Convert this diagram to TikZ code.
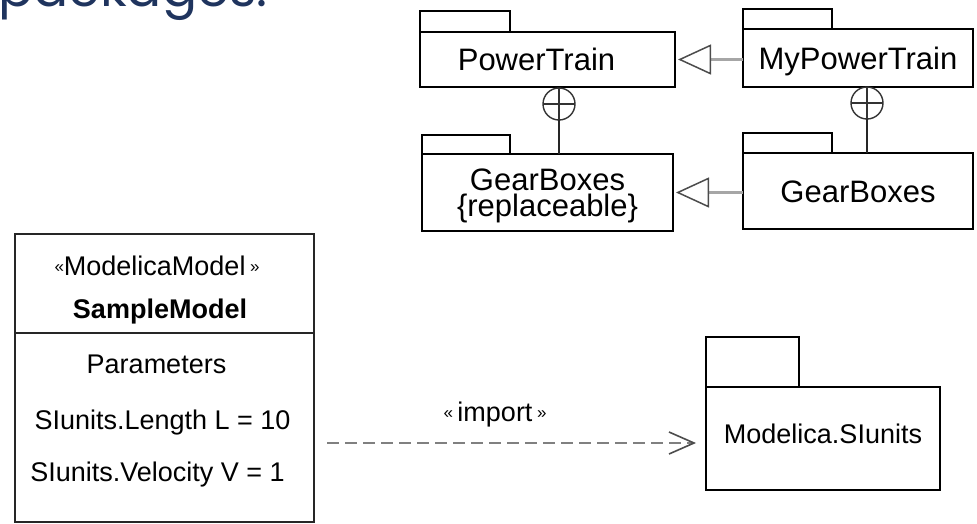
\documentclass[tikz,border=0pt]{standalone}
\usepackage{fontspec}
\setmainfont{Liberation Sans}
\newfontfamily\headfont{Poppins}
\usepackage{tikz}
\usetikzlibrary{positioning,arrows.meta}
\definecolor{headblue}{RGB}{31,52,94}
\newcommand{\gml}{\raisebox{3pt}{\fontsize{17}{17}\selectfont«}}
\newcommand{\gmr}{\raisebox{3pt}{\fontsize{17}{17}\selectfont»}}
\tikzset{
  % --- packages and classes --------------------------------------------------
  pkg/.style={rectangle,draw=black,line width=1.8pt,inner sep=0pt,outer sep=0pt,
              font=\fontsize{31}{26}\selectfont,align=center,
              text height=22pt,text depth=0pt},
  pkgtab/.style={rectangle,draw=black,line width=1.8pt,inner sep=0pt,outer sep=0pt,
                 anchor=south west},
  cls/.style={rectangle,draw=black!85,line width=1.8pt,inner sep=0pt,outer sep=0pt},
  clstext/.style={anchor=base,inner sep=0pt,font=\fontsize{27}{27}\selectfont},
  % --- relations -------------------------------------------------------------
  nest/.style={circle,draw=black!80,line width=1.4pt,minimum size=32pt,
               inner sep=0pt,outer sep=0pt,
               path picture={\draw[line width=1.4pt]
                 (path picture bounding box.north) -- (path picture bounding box.south)
                 (path picture bounding box.west) -- (path picture bounding box.east);}},
  nestline/.style={draw=black!85,line width=1.8pt},
}

\begin{document}
\begin{tikzpicture}[
    x=1pt, y=-1pt,
    gen/.style={draw=black!35,line width=2.6pt,shorten >=3pt,
                -{Triangle[open,length=33pt,width=30pt,line width=1.5pt,color=black!70]}},
    dep/.style={draw=black!50,line width=1.6pt,dash pattern=on 12pt off 6pt,
                shorten <=13pt,shorten >=10pt,
                -{Straight Barb[length=25pt,width=22pt,line width=1.6pt,color=black!70]}}]

  \clip (0,0) rectangle (977,523);
  \fill[white] (0,0) rectangle (977,523);

  % ---- heading, cut by the top edge ----
  \node[anchor=base west,inner sep=0pt,text=headblue,
        font=\headfont\fontsize{52}{52}\selectfont] (head) at (-2,6) {packages.};

  % ---- the nested packages ----
  \node[pkg,minimum width=255pt,minimum height=55pt] (pt) at (547.5,59.5) {PowerTrain\hspace*{22pt}};
  \node[pkgtab,minimum width=90pt,minimum height=21pt] (pttab) at (pt.north west) {};
  \node[pkg,minimum width=230pt,minimum height=58pt] (mypt) at (858,58) {MyPowerTrain};
  \node[pkgtab,minimum width=89pt,minimum height=20pt] (mypttab) at (mypt.north west) {};
  \node[pkg,minimum width=251pt,minimum height=77pt,text height=48pt] (gb) at (547.5,192.5)
       {GearBoxes\\\{replaceable\}};
  \node[pkgtab,minimum width=88pt,minimum height=19pt] (gbtab) at (gb.north west) {};
  \node[pkg,minimum width=230pt,minimum height=76pt] (mygb) at (858,191) {GearBoxes};
  \node[pkgtab,minimum width=89pt,minimum height=20pt] (mygbtab) at (mygb.north west) {};

  \node[nest] (cp1) at (559,104) {};
  \node[nest] (cp2) at (867,103) {};
  \draw[nestline] (cp1 |- gb.north) -- (cp1.south);
  \draw[nestline] (cp2 |- mygb.north) -- (cp2.south);

  \draw[gen] (mypt.west |- pt.east) -- (pt.east);
  \draw[gen] (mygb.west |- gb.east) -- (gb.east);

  % ---- the model and the imported package ----
  \node[cls,minimum width=299pt,minimum height=288pt] (sm) at (164.5,378) {};
  \coordinate (cut) at (0,333);
  \draw[cls] (sm.west |- cut) -- (sm.east |- cut);
  \node[clstext] (smst) at (157,275) {\gml ModelicaModel\,\gmr};
  \node[clstext,font=\fontsize{27}{27}\selectfont\bfseries] (smname) at (160,318) {SampleModel};
  \node[clstext] (smpar) at (156.5,373) {Parameters};
  \node[clstext] (smlen) at (162.5,429) {SIunits.Length L = 10};
  \node[clstext] (smvel) at (157.5,481) {SIunits.Velocity V = 1};

  \node[pkg,font=\fontsize{27}{27}\selectfont,text height=19pt,text depth=10pt,
        minimum width=234pt,minimum height=103pt] (si) at (823,438.5) {Modelica.SIunits};
  \node[pkgtab,minimum width=93pt,minimum height=50pt] (sitab) at (si.north west) {};

  \coordinate (depy) at ([yshift=-4.5pt]si.west);
  \draw[dep] (sm.east |- depy) -- (depy)
        node[midway,above=15pt,xshift=-15pt,inner sep=0pt,
             font=\fontsize{27}{27}\selectfont] (imp) {\gml\,import\,\gmr};
\end{tikzpicture}
\end{document}
